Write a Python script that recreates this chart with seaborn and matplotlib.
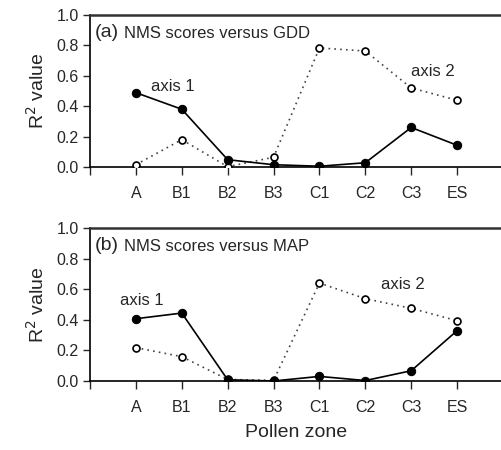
import matplotlib
matplotlib.use("Agg")
import matplotlib.pyplot as plt
import seaborn as sns
import pandas as pd
import numpy as np

zones = ["A", "B1", "B2", "B3", "C1", "C2", "C3", "ES"]
gdd_axis1 = [0.489, 0.380, 0.048, 0.015, 0.005, 0.028, 0.260, 0.143]
gdd_axis2 = [0.015, 0.180, 0.002, 0.064, 0.783, 0.763, 0.520, 0.439]
map_axis1 = [0.407, 0.444, 0.008, 0.000, 0.030, 0.003, 0.067, 0.329]
map_axis2 = [0.218, 0.159, 0.010, 0.004, 0.640, 0.538, 0.475, 0.394]
yticks = [0.0, 0.2, 0.4, 0.6, 0.8, 1.0]

sns.set_style("ticks")
plt.rcParams['font.family'] = ['Liberation Sans', 'DejaVu Sans']

fig = plt.figure(figsize=(5.01, 4.5), dpi=100)
W, H = 501.0, 450.0
ax_a = fig.add_axes([90 / W, 1 - 167 / H, 413 / W, 152 / H])
ax_b = fig.add_axes([90 / W, 1 - 381 / H, 413 / W, 153 / H])

panels = [
    (ax_a, gdd_axis1, gdd_axis2, "(a)", "NMS scores versus GDD",
     (0.81, 0.53), (6.47, 0.63)),
    (ax_b, map_axis1, map_axis2, "(b)", "NMS scores versus MAP",
     (0.13, 0.525), (5.82, 0.63)),
]

for ax, a1, a2, lab, title, p1, p2 in panels:
    x = np.arange(len(zones))
    d1 = pd.DataFrame({"x": x, "y": a1})
    d2 = pd.DataFrame({"x": x, "y": a2})
    sns.lineplot(data=d2, x="x", y="y", ax=ax, color="#444444", linestyle=(0, (1, 2.5)),
                 linewidth=1.2, marker="o", markersize=5, markerfacecolor="white",
                 markeredgecolor="black", markeredgewidth=1.2, zorder=3)
    sns.lineplot(data=d1, x="x", y="y", ax=ax, color="black", linewidth=1.2,
                 marker="o", markersize=6, markerfacecolor="black",
                 markeredgecolor="black", zorder=4)
    ax.set_xlim(-1, 8)
    ax.set_ylim(0, 1.0)
    ax.set_xticks(list(range(-1, 8)))
    ax.set_xticklabels([""] + zones, fontsize=11.5)
    ax.set_yticks(yticks)
    ax.set_yticklabels([f"{v:.1f}" for v in yticks], fontsize=11.5)
    ax.tick_params(axis="y", direction="out", length=5, width=1, pad=3)
    ax.tick_params(axis="x", direction="out", length=6, width=1, pad=8)
    ax.set_xlabel("")
    ax.set_ylabel("R$^2$ value", fontsize=14, labelpad=6)
    for s in ["left", "bottom"]:
        ax.spines[s].set_color("black")
        ax.spines[s].set_linewidth(1.2)
    ax.spines["top"].set_visible(True)
    ax.spines["top"].set_color("#333333")
    ax.spines["top"].set_linewidth(1.8)
    ax.spines["right"].set_visible(False)
    ax.text(0.012, 0.885, lab, transform=ax.transAxes, fontsize=14, va="center", ha="left")
    ax.text(0.083, 0.88, title, transform=ax.transAxes, fontsize=12, va="center", ha="left")
    ax.text(p1[0], p1[1], "axis 1", fontsize=12, ha="center", va="center")
    ax.text(p2[0], p2[1], "axis 2", fontsize=12, ha="center", va="center")
    ax.set_facecolor("white")

ax_b.set_xlabel("Pollen zone", fontsize=14, labelpad=6)
fig.patch.set_facecolor("white")
fig.savefig("out.png", dpi=100, facecolor="white")
